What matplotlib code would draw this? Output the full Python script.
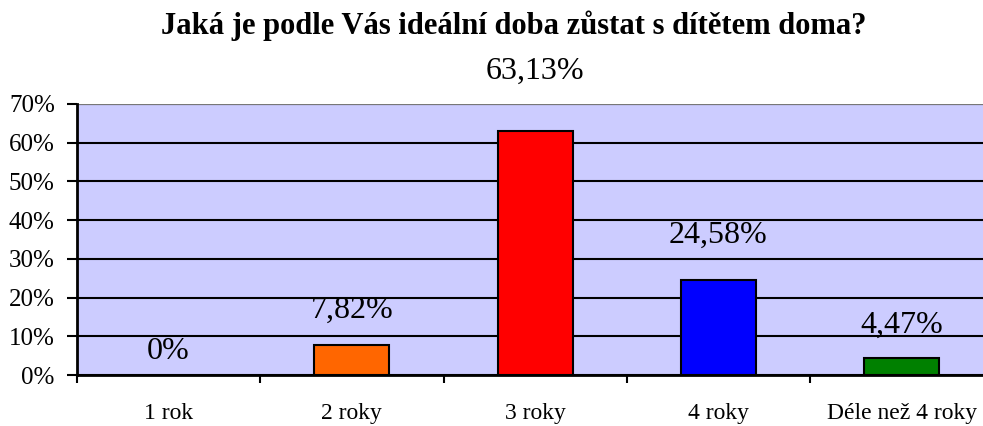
import matplotlib
matplotlib.use("Agg")
import matplotlib.pyplot as plt
from matplotlib.ticker import FuncFormatter

categories = ["1 rok", "2 roky", "3 roky", "4 roky", "Déle než 4 roky"]
values = [0.0, 7.82, 63.13, 24.58, 4.47]
value_labels = ["0%", "7,82%", "63,13%", "24,58%", "4,47%"]
bar_colors = ["#9999FF", "#FF6600", "#FF0000", "#0000FF", "#008000"]
label_offsets = [17, 25, 43, 32, 23.5]  # points above bar top
y_ticks = [0, 10, 20, 30, 40, 50, 60, 70]

title = "Jaká je podle Vás ideální doba zůstat s dítětem doma?"

plt.rcParams['font.family'] = ['Liberation Serif', 'DejaVu Serif']

W, H = 983, 426
fig = plt.figure(figsize=(W / 100, H / 100), dpi=100)
left, right = 77 / W, 993.25 / W
bottom, top = (H - 375) / H, (H - 104) / H
ax = fig.add_axes([left, bottom, right - left, top - bottom])
ax.set_facecolor("#CCCCFF")

x = list(range(len(categories)))
for xi, v, c in zip(x, values, bar_colors):
    if v > 0:
        ax.bar(xi, v, width=0.41, color=c, edgecolor="black", linewidth=1.5, zorder=3)

for xi, v, lab, off in zip(x, values, value_labels, label_offsets):
    ax.annotate(lab, (xi, v), xytext=(0, off), textcoords="offset points",
                ha="center", va="center", fontsize=23, clip_on=False, zorder=4)

ax.set_xlim(-0.5, len(categories) - 0.5)
ax.set_ylim(0, 70)
ax.set_yticks(y_ticks)
ax.yaxis.set_major_formatter(FuncFormatter(lambda v, p: f"{int(v)}%"))
ax.yaxis.grid(True, color="black", linewidth=1.5, zorder=1)
ax.set_axisbelow(True)

ax.set_xticks([i + 0.5 for i in range(len(categories) - 1)] + [-0.5])
ax.set_xticklabels([])
ax.set_xticks(x, minor=True)
ax.set_xticklabels(categories, minor=True, fontsize=17)
ax.tick_params(axis="x", which="minor", length=0, pad=20)
ax.tick_params(axis="x", which="major", length=5.5, width=1.5, direction="out")
ax.tick_params(axis="y", length=7, width=1.5, direction="out", labelsize=18, pad=9)

for s in ["top", "right"]:
    ax.spines[s].set_visible(False)
ax.spines["left"].set_linewidth(2)
ax.spines["bottom"].set_linewidth(2)
ax.axhline(70, color="#777777", linewidth=1.5, zorder=2)

fig.text(0.523, 1 - 26 / H, title, ha="center", va="center", fontsize=22, fontweight="bold")

fig.savefig("out.png", dpi=100)
